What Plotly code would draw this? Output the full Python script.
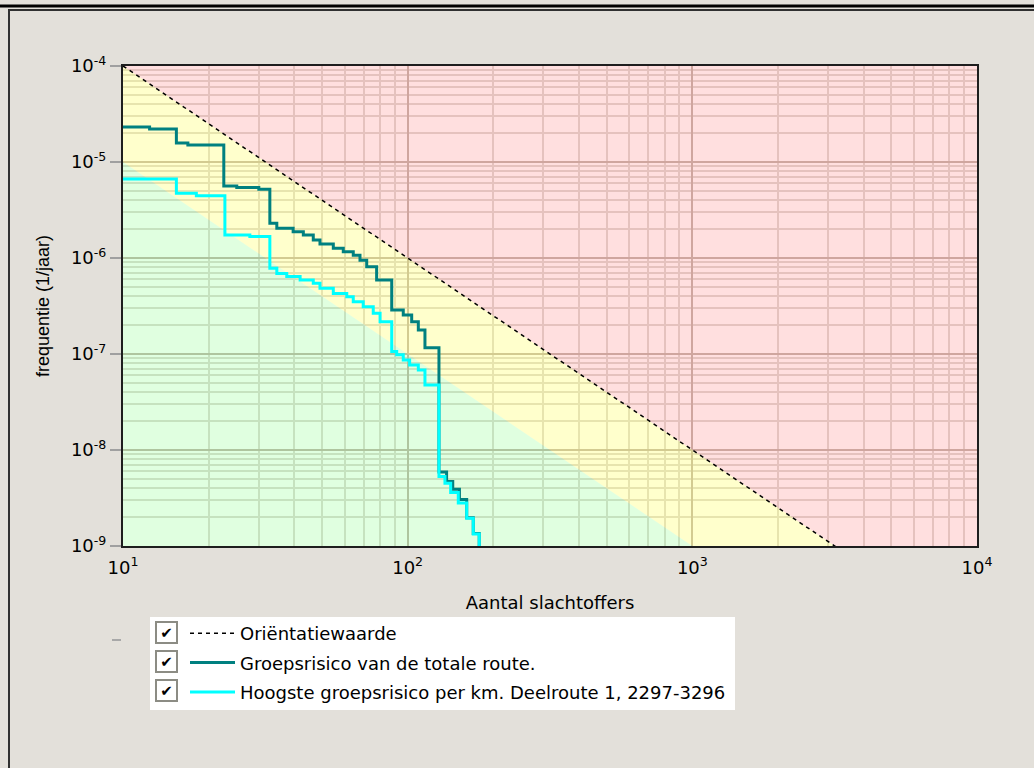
import plotly.graph_objects as go

# ---------------- data ----------------
# Oriëntatiewaarde (guide line)
orient_n = [10, 100, 1000, 10000]
orient_f = [1e-4, 1e-6, 1e-8, 1e-10]
# lower boundary of the green zone (one decade below the guide line)
green_n = [10, 100, 1000, 10000]
green_f = [1e-5, 1e-7, 1e-9, 1e-11]

# Groepsrisico van de totale route (step curve)
total_n = [10, 12.4, 15.4, 16.9, 22.6, 25.1, 30, 32.8, 34.7, 39.6, 43.0, 46.6,
           49.2, 54.8, 59.4, 64.4, 68.0, 71.8, 77.8, 87.9, 96.5, 103.3, 109,
           115, 128.8, 137, 144, 152, 161.2, 170, 178.4]
total_f = [2.32e-5, 2.21e-5, 1.58e-5, 1.5e-5, 5.62e-6, 5.41e-6, 5.2e-6, 2.30e-6,
           2.04e-6, 1.88e-6, 1.74e-6, 1.54e-6, 1.40e-6, 1.26e-6, 1.16e-6, 1.07e-6,
           9.5e-7, 8.1e-7, 5.9e-7, 2.87e-7, 2.55e-7, 2.17e-7, 1.78e-7, 1.16e-7,
           5.9e-9, 4.7e-9, 3.9e-9, 3.05e-9, 1.97e-9, 1.35e-9, 8e-10]

# Hoogste groepsrisico per km (step curve)
km_n = [10, 15.4, 18.1, 22.8, 27.9, 32.8, 34.7, 37.6, 41.9, 46.6, 49.2, 54.8,
        61.1, 64.4, 69.8, 75.7, 80, 87.9, 91.5, 96.5, 101.6, 109, 115, 128.8,
        135.2, 141.6, 150.6, 161.2, 170, 178.4]
km_f = [6.65e-6, 4.72e-6, 4.46e-6, 1.74e-6, 1.67e-6, 7.8e-7, 6.9e-7, 6.4e-7,
        5.9e-7, 5.45e-7, 4.83e-7, 4.28e-7, 3.95e-7, 3.5e-7, 3.11e-7, 2.65e-7,
        2.17e-7, 1.06e-7, 9.8e-8, 8.66e-8, 7.7e-8, 6.8e-8, 4.75e-8, 5.3e-9,
        4.5e-9, 3.6e-9, 2.8e-9, 1.95e-9, 1.33e-9, 8e-10]

x_ticks = [10, 100, 1000, 10000]
x_ticktext = ["10<sup>1</sup>", "10<sup>2</sup>", "10<sup>3</sup>", "10<sup>4</sup>"]
y_ticks = [1e-9, 1e-8, 1e-7, 1e-6, 1e-5, 1e-4]
y_ticktext = ["10<sup>-9</sup>", "10<sup>-8</sup>", "10<sup>-7</sup>",
              "10<sup>-6</sup>", "10<sup>-5</sup>", "10<sup>-4</sup>"]

legend_names = ["Oriëntatiewaarde", "Groepsrisico van de totale route.",
                "Hoogste groepsrisico per km. Deelroute 1, 2297-3296"]

x_minor = [m * 10 ** e for e in range(1, 4) for m in range(2, 10)]
y_minor = [m * 10.0 ** e for e in range(-9, -4) for m in range(2, 10)]

# ---------------- layout geometry ----------------
W, H = 1034, 768
L, R, T, B = 123, 57, 66, 222
PW, PH = W - L - R, H - T - B


def px(x):
    return (x - L) / PW


def py(y):
    return (H - B - y) / PH


fig = go.Figure()

# coloured risk zones (translucent so the grid shows through)
fig.add_trace(go.Scatter(x=orient_n + [orient_n[-1]], y=orient_f + [y_ticks[-1]],
                         fill="toself", fillcolor="rgba(255,0,0,0.125)", mode="none",
                         showlegend=False, hoverinfo="skip"))
fig.add_trace(go.Scatter(x=orient_n + green_n[::-1], y=orient_f + green_f[::-1],
                         fill="toself", fillcolor="rgba(255,255,0,0.2)", mode="none",
                         showlegend=False, hoverinfo="skip"))
fig.add_trace(go.Scatter(x=green_n + [green_n[0]], y=green_f + [green_f[-1]],
                         fill="toself", fillcolor="rgba(0,255,0,0.12)", mode="none",
                         showlegend=False, hoverinfo="skip"))

fig.add_trace(go.Scatter(x=orient_n, y=orient_f, mode="lines", name=legend_names[0],
                         legendgroup="a",
                         line=dict(color="black", width=1.5, dash="4px,4px")))
fig.add_trace(go.Scatter(x=total_n, y=total_f, mode="lines", name=legend_names[1],
                         legendgroup="b",
                         line=dict(color="#008080", width=3, shape="hv")))
fig.add_trace(go.Scatter(x=km_n, y=km_f, mode="lines", name=legend_names[2],
                         legendgroup="c",
                         line=dict(color="#00FFFF", width=3, shape="hv")))

axis_common = dict(showline=True, linecolor="#1E1E1E", linewidth=2, mirror=True,
                   showgrid=True, gridcolor="#C8BEB6", gridwidth=2, zeroline=False,
                   tickfont=dict(family="DejaVu Sans", size=18, color="black"))

fig.update_xaxes(type="log", range=[1, 4], tickmode="array", tickvals=x_ticks,
                 ticktext=x_ticktext, ticks="", ticklabelstandoff=4,
                 minor=dict(tickmode="array", tickvals=x_minor, showgrid=True,
                            gridcolor="#E2DEDA", gridwidth=2, ticks=""),
                 title=dict(text="Aantal slachtoffers", standoff=20,
                            font=dict(family="DejaVu Sans", size=18, color="black")),
                 **axis_common)
fig.update_yaxes(type="log", range=[-9, -4], tickmode="array", tickvals=y_ticks,
                 ticktext=y_ticktext, ticks="outside", ticklen=11, tickwidth=2,
                 tickcolor="#A0A0A0",
                 minor=dict(tickmode="array", tickvals=y_minor, showgrid=True,
                            gridcolor="#E2DEDA", gridwidth=2, ticks=""),
                 title=dict(text="frequentie (1/jaar)", standoff=17,
                            font=dict(family="Liberation Sans", size=18, color="black")),
                 **axis_common)

shapes = [
    # white legend panel
    dict(type="rect", xref="paper", yref="paper", x0=px(150), x1=px(735),
         y0=py(710), y1=py(617), fillcolor="white", line=dict(width=0), layer="below"),
    # window frame
    dict(type="line", xref="paper", yref="paper", x0=px(0), x1=px(W), y0=py(6), y1=py(6),
         line=dict(color="black", width=3)),
    dict(type="line", xref="paper", yref="paper", x0=px(8), x1=px(W), y0=py(10), y1=py(10),
         line=dict(color="#303030", width=2)),
    dict(type="line", xref="paper", yref="paper", x0=px(9), x1=px(9), y0=py(10), y1=py(H),
         line=dict(color="#303030", width=2)),
    dict(type="line", xref="paper", yref="paper", x0=px(112), x1=px(121), y0=py(640),
         y1=py(640), line=dict(color="#A8A8A8", width=2)),
]

annotations = []
for row_y in [632, 661, 690]:
    annotations.append(dict(xref="paper", yref="paper", x=px(166), y=py(row_y),
                            text="✔", showarrow=False, width=17, height=17,
                            font=dict(family="DejaVu Sans", size=15, color="black"),
                            bgcolor="white", bordercolor="#8C8C84", borderwidth=2,
                            borderpad=1, xanchor="center", yanchor="middle"))

fig.update_layout(
    width=W, height=H,
    margin=dict(l=L, r=R, t=T, b=B, autoexpand=False),
    paper_bgcolor="#E3E0DA", plot_bgcolor="white",
    font=dict(family="DejaVu Sans", size=18, color="black"),
    showlegend=True,
    legend=dict(x=px(185), y=py(615), xanchor="left", yanchor="top",
                bgcolor="rgba(0,0,0,0)", borderwidth=0, itemwidth=45,
                tracegroupgap=3,
                font=dict(family="DejaVu Sans", size=18, color="black")),
    shapes=shapes,
    annotations=annotations,
)

fig.write_html("out.html", config={"displayModeBar": False},
               post_script="document.body.style.margin='0';document.body.style.overflow='hidden';")
